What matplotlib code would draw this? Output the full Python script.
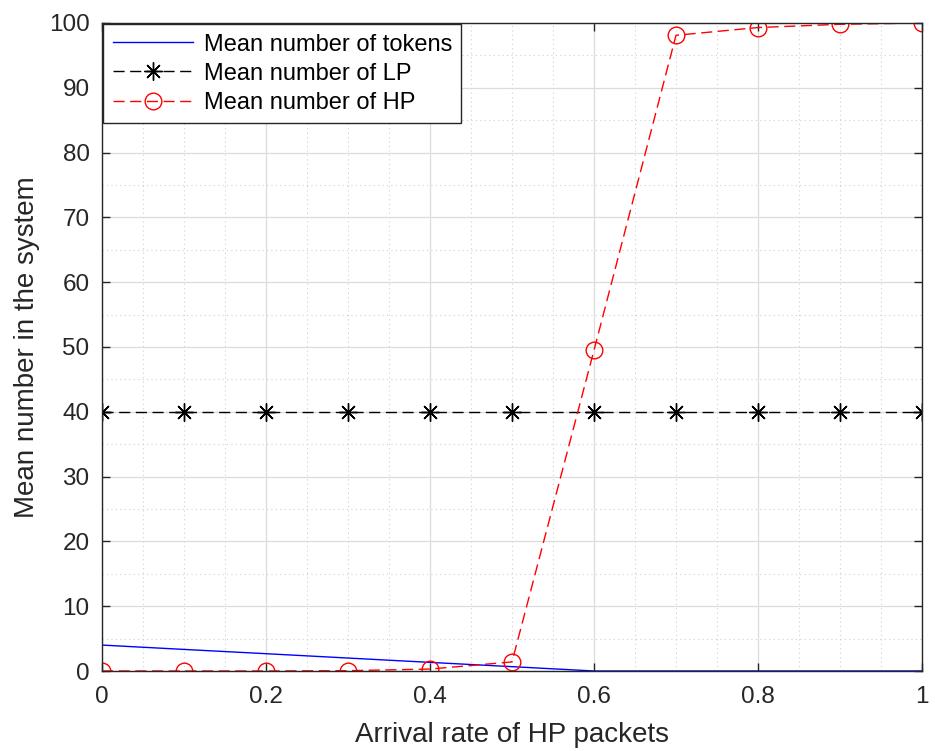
import matplotlib
matplotlib.use("Agg")
import matplotlib.pyplot as plt
from matplotlib.ticker import MultipleLocator

plt.rcParams['font.family'] = ['Liberation Sans', 'DejaVu Sans']

x = [0, 0.1, 0.2, 0.3, 0.4, 0.5, 0.6, 0.7, 0.8, 0.9, 1.0]
tokens = [4.0, 3.33, 2.67, 2.0, 1.33, 0.67, 0, 0, 0, 0, 0]
lp = [40, 40, 40, 40, 40, 40, 40, 40, 40, 40, 40]
hp = [0, 0, 0, 0.05, 0.3, 1.4, 49.5, 98.1, 99.3, 99.8, 100]

labels = ['Mean number of tokens', 'Mean number of LP', 'Mean number of HP']
xtick_vals = [0, 0.2, 0.4, 0.6, 0.8, 1.0]
xtick_labels = ['0', '0.2', '0.4', '0.6', '0.8', '1']

fig = plt.figure(figsize=(9.35, 7.51), dpi=100)
ax = fig.add_axes([102/935, 1-671/751, (922-102)/935, (671-23)/751])

ax.plot(x, tokens, color='#0000ff', lw=1.0, label=labels[0])
ax.plot(x, lp, color='black', lw=1.0, ls=(0, (8, 4)), marker=(8, 2, 0), ms=13,
        markeredgewidth=1.0, label=labels[1])
ax.plot(x, hp, color='#ff0000', lw=1.0, ls=(0, (8, 4)), marker='o', ms=12,
        markerfacecolor='none', markeredgewidth=1.0, label=labels[2])

ax.set_xlim(0, 1)
ax.set_ylim(0, 100)
ax.xaxis.set_minor_locator(MultipleLocator(0.05))
ax.yaxis.set_major_locator(MultipleLocator(10))
ax.yaxis.set_minor_locator(MultipleLocator(5))
ax.set_xticks(xtick_vals)
ax.set_xticklabels(xtick_labels)

ax.grid(True, which='major', color='#dcdcdc', lw=0.9, ls='-')
ax.grid(True, which='minor', color='#d0d0d0', lw=0.8, ls=(0, (1, 3)))
ax.set_axisbelow(True)

for s in ax.spines.values():
    s.set_color('#262626')
    s.set_linewidth(1.0)
ax.tick_params(which='major', direction='in', length=6, width=1.0, colors='#262626',
               labelsize=17.5, top=True, right=True, labelcolor='#262626', pad=9)
ax.tick_params(axis='x', which='major', pad=11)
ax.tick_params(which='minor', length=0, top=True, right=True)

ax.set_xlabel('Arrival rate of HP packets', fontsize=20, color='#262626', labelpad=10)
ax.set_ylabel('Mean number in the system', fontsize=20, color='#262626', labelpad=6)

leg = ax.legend(loc='upper left', fontsize=17, frameon=True, fancybox=False,
                edgecolor='#262626', framealpha=1, borderaxespad=0.05,
                handlelength=3.4, labelspacing=0.3, borderpad=0.4, handletextpad=0.45)
leg.get_frame().set_linewidth(1.0)

fig.savefig('out.png', dpi=100)
